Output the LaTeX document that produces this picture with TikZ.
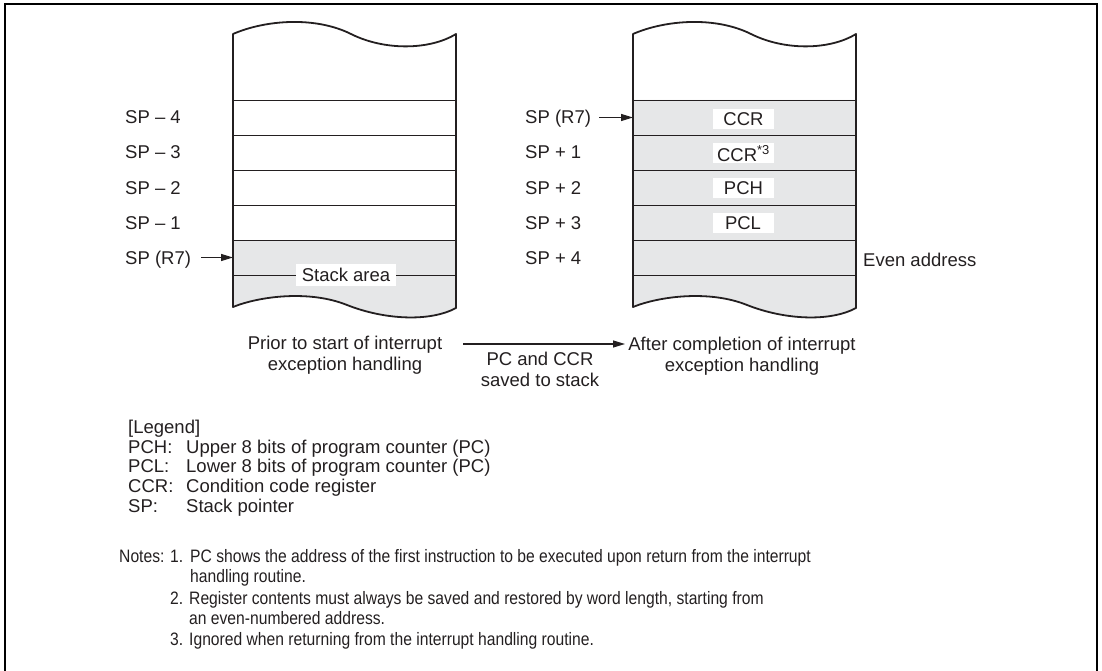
\documentclass[tikz,border=0pt]{standalone}
\usepackage{fontspec}
\setmainfont{Liberation Sans}
\newfontfamily\narrowfont[FakeStretch=0.87]{Liberation Sans}
\usepackage{tikz}
\usetikzlibrary{arrows.meta, positioning}
\definecolor{inkgray}{RGB}{35, 31, 32}
\definecolor{stackgray}{RGB}{230, 231, 232}

\begin{document}
\begin{tikzpicture}[x=1pt, y=-1pt,
    txt/.style={font=\fontsize{18.5}{21}\selectfont, inner sep=0pt, text=inkgray},
    addr/.style={txt, anchor=base west},
    caption/.style={txt, align=center},
    note/.style={font=\narrowfont\fontsize{18}{20}\selectfont, inner sep=0pt, text=inkgray, anchor=base west},
    tag/.style={txt, fill=white, minimum width=61pt, minimum height=20pt},
    outline/.style={line width=1.8pt, inkgray, line join=round},
    rowline/.style={line width=0.9pt, inkgray},
    ptr/.style={-{Triangle[length=12pt, width=7pt]}, line width=1.1pt, inkgray}]

    \useasboundingbox (0,0) rectangle (1102,671);
    \draw[line width=2pt] (5,4) rectangle (1097,673);

    % Stack before interrupt
    \fill[stackgray] (233,240) -- (456,240) -- (456,308) .. controls (430,322) and (385,320) .. (347,305) .. controls (310,290) and (260,296) .. (233,307) -- cycle;
    \draw[rowline] (233,100) -- (456,100);
    \draw[rowline] (233,135) -- (456,135);
    \draw[rowline] (233,170) -- (456,170);
    \draw[rowline] (233,205) -- (456,205);
    \draw[rowline] (233,240) -- (456,240);
    \draw[rowline] (233,275) -- (456,275);
    \draw[outline] (233,307) -- (233,34) .. controls (265,20) and (315,16) .. (351,34) .. controls (385,51) and (430,50) .. (456,34) -- (456,308) .. controls (430,322) and (385,320) .. (347,305) .. controls (310,290) and (260,296) .. (233,307) -- cycle;
    \node[txt, fill=white, inner xsep=6pt, minimum height=22pt] (stackarea) at (346,275) {Stack area};

    \node[addr] (lsp4) at (125,124) {SP -- 4};
    \node[addr] (lsp3) at (125,159) {SP -- 3};
    \node[addr] (lsp2) at (125,194) {SP -- 2};
    \node[addr] (lsp1) at (125,229) {SP -- 1};
    \node[addr] (lsp) at (125,264) {SP (R7)};
    \coordinate (lspin) at (233,257.5);
    \draw[ptr, shorten <=10pt] (lsp.east |- lspin) -- (lspin);

    % Stack after interrupt
    \fill[stackgray] (633,100) -- (856,100) -- (856,308) .. controls (830,322) and (785,320) .. (747,305) .. controls (710,290) and (660,296) .. (633,307) -- cycle;
    \draw[rowline] (633,100) -- (856,100);
    \draw[rowline] (633,135) -- (856,135);
    \draw[rowline] (633,170) -- (856,170);
    \draw[rowline] (633,205) -- (856,205);
    \draw[rowline] (633,240) -- (856,240);
    \draw[rowline] (633,275) -- (856,275);
    \draw[outline] (633,307) -- (633,34) .. controls (665,20) and (715,16) .. (751,34) .. controls (785,51) and (830,50) .. (856,34) -- (856,308) .. controls (830,322) and (785,320) .. (747,305) .. controls (710,290) and (660,296) .. (633,307) -- cycle;
    \node[tag] (ccr) at (743.5,119.5) {CCR};
    \node[tag] (ccrx) at (743.5,153.5) {CCR\textsuperscript{*3}};
    \node[tag] (pch) at (743.5,188) {PCH};
    \node[tag] (pcl) at (743,223) {PCL};

    \node[addr] (rsp) at (525,124) {SP (R7)};
    \node[addr] (rsp1) at (525,159) {SP + 1};
    \node[addr] (rsp2) at (525,194) {SP + 2};
    \node[addr] (rsp3) at (525,229) {SP + 3};
    \node[addr] (rsp4) at (525,264) {SP + 4};
    \node[addr] (even) at (863,266) {Even address};
    \coordinate (rspin) at (633,117.5);
    \draw[ptr, shorten <=8pt] (rsp.east |- rspin) -- (rspin);

    % Captions
    \node[caption] (prior) at (345,355.3) {Prior to start of interrupt\\exception handling};
    \node[caption] (saved) at (540,369.4) {PC and CCR\\saved to stack};
    \node[caption] (after) at (742,356.3) {After completion of interrupt\\exception handling};
    \coordinate (pushfrom) at (463,344);
    \coordinate (pushto) at (625,344);
    \draw[ptr] (pushfrom) -- (pushto);

    % Legend
    \node[addr] (legend) at (128,433.5) {[Legend]};
    \node[addr] (kpch) at (128,453.5) {PCH:};
    \node[addr] (dpch) at (186,453.5) {Upper 8 bits of program counter (PC)};
    \node[addr] (kpcl) at (128,472.5) {PCL:};
    \node[addr] (dpcl) at (186,472.5) {Lower 8 bits of program counter (PC)};
    \node[addr] (kccr) at (128,492.5) {CCR:};
    \node[addr] (dccr) at (186,492.5) {Condition code register};
    \node[addr] (ksp) at (128,512.5) {SP:};
    \node[addr] (dsp) at (186,512.5) {Stack pointer};

    % Notes
    \node[note] (notes) at (119,562) {Notes:};
    \node[note] (n1) at (170,562) {1.};
    \node[note] (t1a) at (190,562) {PC shows the address of the first instruction to be executed upon return from the interrupt};
    \node[note] (t1b) at (190,582.5) {handling routine.};
    \node[note] (n2) at (170,604) {2.};
    \node[note] (t2a) at (189,604) {Register contents must always be saved and restored by word length, starting from};
    \node[note] (t2b) at (189,624) {an even-numbered address.};
    \node[note] (n3) at (170,645) {3.};
    \node[note] (t3) at (189,645) {Ignored when returning from the interrupt handling routine.};
\end{tikzpicture}
\end{document}
